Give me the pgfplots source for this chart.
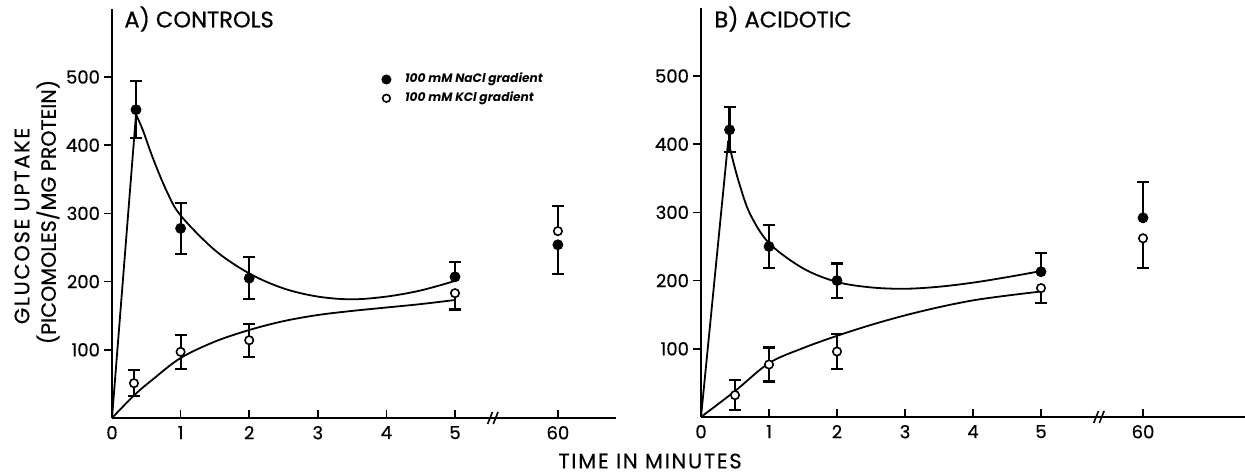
\documentclass[border=0pt]{standalone}
\usepackage{fontspec}
\usepackage{pgfplots}
\pgfplotsset{compat=1.18}
\newfontfamily\pop[FakeBold=0.6]{Poppins}
\newfontfamily\popsp[LetterSpace=8, FakeBold=0.4]{Poppins}
\newfontfamily\legf{Poppins}[ItalicFont={* Italic}, BoldItalicFont={* Bold Italic}]
\pgfplotsset{
  panel/.style={
    xmin=0, ymin=0, ymax=600,
    y=0.341pt,
    axis x line=bottom, axis y line=left,
    axis line style={-, line width=0.9pt},
    xtick={0,1,2,3,4,5,6.5},
    xticklabels={0,1,2,3,4,5,60},
    ytick={100,200,300,400,500},
    xtick align=inside, ytick align=outside,
    major tick length=4pt,
    tick style={line width=0.8pt, black},
    /pgf/number format/assume math mode=true,
    tick label style={font=\pop\fontsize{9}{10}\selectfont},
    xticklabel style={yshift=-0.5pt},
    yticklabel style={xshift=1.5pt},
    clip=false,
  },
  eb/.style={only marks, mark=none, black,
    error bars/.cd, y explicit, y dir=#1,
    error bar style={line width=1.1pt, black},
    error mark options={rotate=90, mark size=3pt, line width=1.1pt, black}},
  curve/.style={black, line width=0.9pt, smooth, tension=0.55, mark=none},
  fdot/.style={only marks, mark=*, mark size=2.5pt, black},
  odot/.style={only marks, mark=*, mark size=2.1pt, mark options={fill=white, draw=black, line width=0.8pt}},
}
\begin{document}
\begin{tikzpicture}[x=1pt,y=1pt]
\useasboundingbox (0,0) rectangle (622.5,237);
% ---------- Panel A ----------
\begin{axis}[panel, at={(56pt,28pt)}, anchor=south west, x=34.3pt, xmax=7.35,
  legend style={at={(axis cs:3.84,518)}, anchor=north west, draw=none, fill=none,
    font=\legf\bfseries\itshape\fontsize{6.1}{7}\selectfont, row sep=-1pt,
    /tikz/every even column/.append style={column sep=0pt}},
  legend cell align=left,
  legend image code/.code={\draw[#1] (0.22cm,0cm) -- plot coordinates {(0.22cm,0cm)};}]
\addlegendimage{only marks, mark=*, mark size=2.3pt, black}
\addlegendentry{\hspace{5pt}100 mM NaCl gradient}
\addlegendimage{only marks, mark=*, mark size=1.9pt, mark options={fill=white, draw=black, line width=0.8pt}}
\addlegendentry{\hspace{5pt}100 mM KCl gradient}
% error bars
\addplot[eb=both] coordinates {(0.35,452) +- (0,42) (1,278) +- (0,37) (2,205) +- (0,31)};
\addplot[eb=plus] coordinates {(5,207) +- (0,22)};
\addplot[eb=minus] coordinates {(6.5,254) +- (0,43)};
\addplot[eb=both] coordinates {(0.32,51) +- (0,19) (1,97) +- (0,25) (2,114) +- (0,24)};
\addplot[eb=minus] coordinates {(5,183) +- (0,24)};
\addplot[eb=plus] coordinates {(6.5,274) +- (0,37)};
% curves
\addplot[black, line width=0.9pt] coordinates {(0,0) (0.35,445)};
\addplot[curve] coordinates {(0.35,445) (0.45,422) (0.6,380) (0.8,332) (1,297) (1.5,246) (2,212) (2.5,190) (3,178) (3.5,174) (4,178) (4.5,187) (5,201)};
\addplot[curve] coordinates {(0,0) (0.33,34) (0.6,57) (1,88) (1.5,112) (2,129) (2.5,142) (3,151) (3.5,157) (4,162) (4.5,167) (5,173)};
% points
\addplot[fdot] coordinates {(0.35,452) (1,278) (2,205) (5,207) (6.5,254)};
\addplot[odot] coordinates {(0.32,51) (1,97) (2,114) (5,183) (6.5,274)};
% axis break
\draw[line width=0.8pt] ([xshift=-2.2pt,yshift=-3pt]axis cs:5.54,0) -- ++(2.4pt,6pt);
\draw[line width=0.8pt] ([xshift=0.6pt,yshift=-3pt]axis cs:5.54,0) -- ++(2.4pt,6pt);
\end{axis}
% ---------- Panel B ----------
\begin{axis}[panel, at={(350.5pt,28.5pt)}, anchor=south west, x=34pt, xmax=8.0]
\addplot[eb=both] coordinates {(0.42,421) +- (0,33) (1,250) +- (0,31) (2,200) +- (0,25)};
\addplot[eb=plus] coordinates {(5,213) +- (0,27) (6.5,292) +- (0,52)};
\addplot[eb=both] coordinates {(0.5,32) +- (0,22) (1,77) +- (0,25) (2,96) +- (0,26)};
\addplot[eb=minus] coordinates {(5,189) +- (0,22) (6.5,262) +- (0,44)};
\addplot[black, line width=0.9pt] coordinates {(0,0) (0.4,405)};
\addplot[curve] coordinates {(0.4,405) (0.47,376) (0.57,340) (0.72,298) (1,255) (1.5,218) (2,198) (2.5,190) (3,188) (3.5,191) (4,197) (4.5,205) (5,214)};
\addplot[curve] coordinates {(0,0) (0.5,38) (1,79) (1.5,101) (2,119) (2.5,135) (3,149) (3.5,161) (4,171) (4.5,178) (5,184)};
\addplot[fdot] coordinates {(0.42,421) (1,250) (2,200) (5,213) (6.5,292)};
\addplot[odot] coordinates {(0.5,32) (1,77) (2,96) (5,189) (6.5,262)};
\draw[line width=0.8pt] ([xshift=-2.2pt,yshift=-3pt]axis cs:5.84,0) -- ++(2.4pt,6pt);
\draw[line width=0.8pt] ([xshift=0.6pt,yshift=-3pt]axis cs:5.84,0) -- ++(2.4pt,6pt);
\end{axis}
% ---------- Texts ----------
\node[anchor=west, font=\pop\fontsize{11.3}{13}\selectfont, inner sep=0pt] at (62,227.5) {A) CONTROLS};
\node[anchor=west, font=\pop\fontsize{11.3}{13}\selectfont, inner sep=0pt] at (357,227.5) {B) ACIDOTIC};
\node[rotate=90, font=\popsp\fontsize{10.5}{12}\selectfont, inner sep=0pt] at (11,124) {GLUCOSE UPTAKE};
\node[rotate=90, font=\pop\fontsize{10.3}{12}\selectfont, inner sep=0pt] at (24,131) {(PICOMOLES/MG PROTEIN)};
\node[font=\popsp\fontsize{10.5}{12}\selectfont, inner sep=0pt, anchor=base] at (325,2.8) {TIME IN MINUTES};
\end{tikzpicture}
\end{document}
